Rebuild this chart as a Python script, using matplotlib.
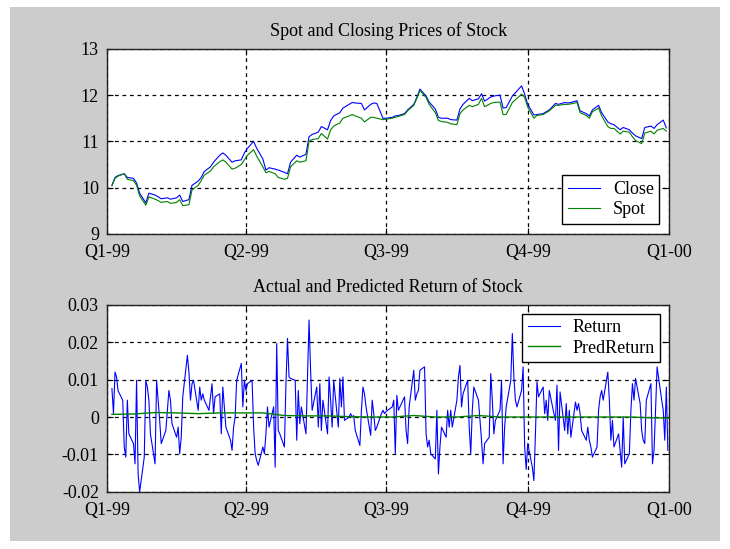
import numpy as np
import pandas as pd
import matplotlib
matplotlib.use('Agg')
import matplotlib.pyplot as plt
from matplotlib.patches import Rectangle
from matplotlib.ticker import FuncFormatter

# prices, every 2nd business day starting 4 Jan 1999
close = [10.05, 10.22, 10.26, 10.30, 10.22, 10.20, 10.10, 9.88, 9.67,
         9.88, 9.84, 9.80, 9.76, 9.78, 9.75, 9.78, 9.84, 9.70, 9.74,
         10.05, 10.14, 10.22, 10.35, 10.45, 10.55, 10.70, 10.75, 10.70, 10.55,
         10.58, 10.60, 10.75, 10.85, 11.00, 10.85, 10.62, 10.38, 10.43, 10.40,
         10.38, 10.33, 10.30, 10.55, 10.70, 10.66, 10.72, 11.10, 11.15, 11.20,
         11.32, 11.25, 11.45, 11.55, 11.62, 11.72, 11.80, 11.84, 11.83, 11.82,
         11.68, 11.80, 11.83, 11.82, 11.50, 11.50, 11.52, 11.55, 11.56, 11.60,
         11.68, 11.80, 11.95, 12.13, 11.98, 11.85, 11.70, 11.52, 11.50, 11.50,
         11.47, 11.46, 11.70, 11.80, 11.93, 11.88, 11.92, 12.03, 11.87, 11.96,
         11.98, 12.00, 11.72, 11.73, 11.98, 12.05, 12.20, 12.02, 11.80, 11.57,
         11.58, 11.60, 11.64, 11.68, 11.82, 11.80, 11.84, 11.83, 11.84, 11.88,
         11.66, 11.60, 11.55, 11.68, 11.78, 11.62, 11.42, 11.38, 11.36, 11.25,
         11.30, 11.25, 11.18, 11.12, 11.06, 11.30, 11.33, 11.28, 11.36, 11.46,
         11.29]
spot = [10.04, 10.20, 10.25, 10.30, 10.18, 10.15, 10.05, 9.82, 9.62,
        9.80, 9.75, 9.72, 9.68, 9.70, 9.66, 9.68, 9.74, 9.61, 9.63,
        9.95, 10.05, 10.15, 10.27, 10.36, 10.45, 10.56, 10.60, 10.55, 10.40,
        10.42, 10.50, 10.60, 10.70, 10.82, 10.68, 10.45, 10.32, 10.35, 10.30,
        10.22, 10.18, 10.20, 10.45, 10.58, 10.55, 10.58, 11.00, 11.04, 11.06,
        11.17, 11.05, 11.25, 11.33, 11.40, 11.50, 11.55, 11.58, 11.55, 11.50,
        11.42, 11.52, 11.52, 11.50, 11.47, 11.48, 11.50, 11.52, 11.54, 11.58,
        11.66, 11.78, 11.93, 12.10, 11.95, 11.80, 11.62, 11.45, 11.43, 11.41,
        11.38, 11.36, 11.60, 11.68, 11.78, 11.75, 11.80, 11.93, 11.75, 11.82,
        11.84, 11.85, 11.58, 11.58, 11.84, 11.90, 12.02, 11.95, 11.74, 11.50,
        11.56, 11.58, 11.62, 11.66, 11.78, 11.78, 11.80, 11.80, 11.81, 11.84,
        11.62, 11.56, 11.50, 11.64, 11.72, 11.55, 11.32, 11.28, 11.28, 11.16,
        11.22, 11.20, 11.10, 11.02, 10.95, 11.18, 11.22, 11.16, 11.24, 11.28,
        11.22]

# daily returns (x 0.001), business days from 4 Jan 1999
ret = [7.6, 0.9, 12.0, 10.7, 7.0, 4.5, -8.0, -10.7, 4.5, -4.5,
       -7.1, -12.5, 9.8, -15.2, -20.0, -10.7, 9.8, 8.0, 4.5, -4.5,
       -12.5, 9.8, 4.5, -0.9, -7.1, -3.6, 1.8, 7.1, 4.5, -1.8,
       -5.4, -2.7, -9.8, -5.4, 5.4, 16.5, 12.0, 4.5, 8.9, 9.8,
       1.8, 8.0, 4.5, 6.2, 4.5, 1.8, 5.4, 8.9, 0.9, 5.4,
       6.2, -4.5, 8.0, 2.7, -2.7, -6.2, -8.9, -2.7, 0.0, 9.8,
       14.3, 2.7, 9.8, 7.1, 8.9, 9.8, -2.7, -9.8, -11.6, -12.9,
       -8.0, -9.8, -4.5, 2.7, -2.7, 2.7, -13.4, 19.6, -3.6, -4.5,
       -8.0, 8.9, 21.0, 10.7, 10.3, 9.8, -6.2, 7.1, -1.8, 2.7,
       -4.5, 10.7, 25.9, 12.5, 1.8, 8.0, -2.7, 8.9, -3.6, 4.5,
       -4.5, 10.7, 4.5, -2.7, 9.8, -2.7, 10.3, 2.7, 10.7, -0.9,
       0.0, 0.9, 0.0, 0.4, -3.6, -7.6, 1.8, 8.0, 6.2, 2.7,
       -4.9, 4.5, 0.9, -3.6, -2.7, 0.9, 1.8, 0.9, 1.5, 1.8,
       2.7, 4.5, -9.8, 5.8, 1.8, 4.5, 5.4, -3.6, -7.1, 2.7,
       12.5, 4.5, 6.2, 7.1, 12.5, 13.4, -4.5, -8.0, -6.2, -9.8,
       -11.2, 1.8, -15.2, -8.0, -2.7, -5.4, 1.8, -2.7, 1.8, -2.7,
       4.5, 10.7, 13.8, 2.7, 6.2, 9.8, -2.7, -9.8, 1.8, 8.0,
       4.5, -0.9, -6.2, -12.5, -7.1, -5.4, 11.6, 4.5, -4.5, -0.9,
       1.8, 9.8, -12.5, -2.7, 2.7, 9.8, 22.3, 10.7, 4.5, 2.7,
       7.1, 13.4, -8.0, -14.0, -7.1, -13.4, -17.0, -4.5, 9.4, 5.4,
       8.0, 0.9, 4.5, -0.9, 7.1, 0.9, -0.9, 8.5, -8.9, 6.7,
       -3.6, 3.6, -4.5, 1.8, -5.4, 4.0, 1.8, 3.6, 0.9, -3.6,
       -6.2, -2.7, -6.2, -8.0, -10.7, -8.0, 1.8, 5.4, 7.1, 4.5,
       12.0, 4.5, -6.2, -0.9, -8.0, -4.5, -8.9, -13.4, 0.0, -12.5,
       -9.8, 1.8, 8.9, 4.5, 10.3, 3.6, -3.6, -6.2, -7.1, 4.5,
       8.9, -12.5, -8.9, 1.8, 13.4, 4.5, 1.8, -6.2, 8.0, -8.9]

# predicted return (x 0.001), every 10 business days
pred = [0.7, 0.8, 1.2, 1.1, 0.9, 1.1, 1.1, 1.1, 0.4, 0.3,
        0.3, 0.1, 0.0, 0.0, 0.4, 0.0, 0.0, 0.4, 0.0, 0.0,
        0.0, 0.0, 0.0, 0.0, 0.0, -0.2, -0.3]

quarter_ticks = ['1999-01-01', '1999-04-01', '1999-07-01', '1999-10-01', '2000-01-01']
quarter_labels = ['Q1-99', 'Q2-99', 'Q3-99', 'Q4-99', 'Q1-00']

price_dates = pd.bdate_range('1999-01-04', periods=len(close), freq='2B')
ret_dates = pd.bdate_range('1999-01-04', periods=len(ret))
pred_dates = pd.bdate_range('1999-01-04', periods=len(pred), freq='10B')

plt.rcParams['font.family'] = ['Liberation Serif', 'DejaVu Serif']
plt.rcParams['font.size'] = 13

fig = plt.figure(figsize=(7.3, 5.49), dpi=100, facecolor='white')
fig.patches.append(Rectangle((10 / 730, 8 / 549), 710 / 730, 534 / 549,
                             transform=fig.transFigure, facecolor='#cccccc',
                             edgecolor='none', zorder=-1))

ax1 = fig.add_axes([0.147, 0.574, 0.770, 0.337])
ax2 = fig.add_axes([0.147, 0.104, 0.770, 0.341])

ax1.plot(price_dates, close, color='#0000ff', linewidth=0.8, label='Close')
ax1.plot(price_dates, spot, color='#008000', linewidth=0.8, label='Spot')
ax1.set_ylim(9, 13)
ax1.set_yticks([9, 10, 11, 12, 13])
ax1.set_title('Spot and Closing Prices of Stock', fontsize=13, pad=9)
ax1.legend(loc='lower right', bbox_to_anchor=(0.982, 0.054), borderaxespad=0,
           fancybox=False, edgecolor='black', framealpha=1, handlelength=1.8,
           handletextpad=0.7, labelspacing=0.2, borderpad=0.3)

ax2.plot(ret_dates, np.array(ret) / 1000, color='#0000ff', linewidth=0.8, label='Return')
ax2.plot(pred_dates, np.array(pred) / 1000, color='#008000', linewidth=1.0, label='PredReturn')
ax2.set_ylim(-0.02, 0.03)
ax2.set_yticks([-0.02, -0.01, 0, 0.01, 0.02, 0.03])
ax2.yaxis.set_major_formatter(FuncFormatter(lambda v, p: '%g' % round(v, 3)))
ax2.set_title('Actual and Predicted Return of Stock', fontsize=13, pad=9)
ax2.legend(loc='upper right', bbox_to_anchor=(0.984, 0.952), borderaxespad=0,
           fancybox=False, edgecolor='black', framealpha=1, handlelength=1.8,
           handletextpad=0.7, labelspacing=0.2, borderpad=0.3)

for ax in (ax1, ax2):
    ax.set_facecolor('white')
    ax.set_xlim(pd.Timestamp(quarter_ticks[0]), pd.Timestamp(quarter_ticks[-1]))
    ax.set_xticks(pd.to_datetime(quarter_ticks))
    ax.set_xticklabels(quarter_labels)
    ax.grid(True, color='black', linestyle=(0, (3, 3)), linewidth=0.9)
    ax.tick_params(direction='in', top=True, right=True, length=4, labelsize=13)
    ax.tick_params(axis='x', pad=7)
    ax.tick_params(axis='y', pad=6)
    for s in ax.spines.values():
        s.set_linewidth(1.0)
        s.set_color('#202020')

fig.savefig('out.png', dpi=100, facecolor='white')
